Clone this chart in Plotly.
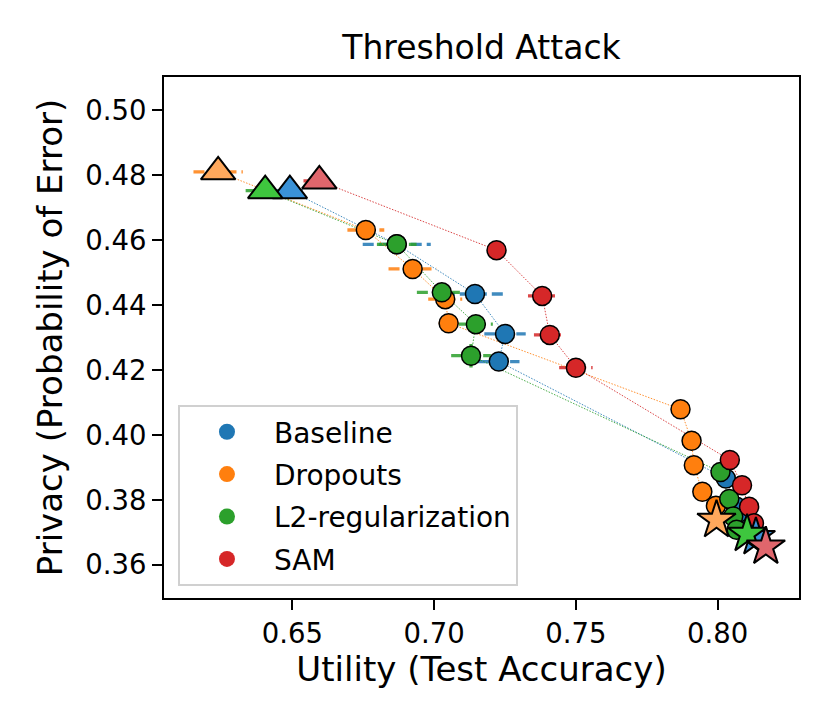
import plotly.graph_objects as go

# series order: first point = triangle, last point = star, the rest = circles
methods = ["Baseline", "Dropouts", "L2-regularization", "SAM"]
colors = ["#1f77b4", "#ff7f0e", "#2ca02c", "#d62728"]
light_colors = ["#3a92d8", "#ffa85c", "#3ec63e", "#e0666c"]

baseline_x = [0.6491, 0.6868, 0.7144, 0.7250, 0.7228, 0.8029, 0.8067, 0.8090, 0.8105, 0.8135]
baseline_y = [0.4752, 0.4587, 0.4434, 0.4311, 0.4226, 0.3866, 0.3779, 0.3738, 0.3710, 0.3685]
baseline_xerr = [0.0050, 0.0120, 0.0110, 0.0073, 0.0073, 0.0020, 0.0020, 0.0020, 0.0020, 0.0020]
baseline_yerr = [0, 0, 0, 0, 0, 0, 0, 0, 0, 0]

dropout_x = [0.6238, 0.6759, 0.6924, 0.7039, 0.7051, 0.7869, 0.7908, 0.7916, 0.7946, 0.7994, 0.7996]
dropout_y = [0.4810, 0.4631, 0.4511, 0.4418, 0.4344, 0.4079, 0.3982, 0.3907, 0.3825, 0.3782, 0.3738]
dropout_xerr = [0.0087, 0.0065, 0.0085, 0.0060, 0.0035, 0.0020, 0.0020, 0.0020, 0.0020, 0.0020, 0.0020]
dropout_yerr = [0, 0, 0, 0, 0, 0, 0, 0, 0, 0, 0]

l2_x = [0.6404, 0.6868, 0.7027, 0.7147, 0.7130, 0.8010, 0.8041, 0.8055, 0.8067, 0.8104]
l2_y = [0.4752, 0.4587, 0.4439, 0.4341, 0.4244, 0.3886, 0.3803, 0.3749, 0.3708, 0.3695]
l2_xerr = [0.0069, 0.0070, 0.0088, 0.0060, 0.0070, 0.0020, 0.0020, 0.0020, 0.0020, 0.0020]
l2_yerr = [0, 0, 0, 0, 0.0036, 0, 0, 0, 0, 0]

sam_x = [0.6595, 0.7220, 0.7381, 0.7408, 0.7500, 0.8043, 0.8086, 0.8111, 0.8128, 0.8170]
sam_y = [0.4782, 0.4569, 0.4428, 0.4308, 0.4207, 0.3923, 0.3845, 0.3779, 0.3728, 0.3656]
sam_xerr = [0.0056, 0.0014, 0.0050, 0.0056, 0.0059, 0.0020, 0.0020, 0.0020, 0.0020, 0.0020]
sam_yerr = [0, 0, 0, 0, 0, 0, 0, 0, 0, 0]

xs = [baseline_x, dropout_x, l2_x, sam_x]
ys = [baseline_y, dropout_y, l2_y, sam_y]
xerrs = [baseline_xerr, dropout_xerr, l2_xerr, sam_xerr]
yerrs = [baseline_yerr, dropout_yerr, l2_yerr, sam_yerr]

x_ticks = [0.65, 0.70, 0.75, 0.80]
y_ticks = [0.36, 0.38, 0.40, 0.42, 0.44, 0.46, 0.48, 0.50]

FONT = "DejaVu Sans"

fig = go.Figure()

# dashed error bars (drawn first so markers sit on top)
for i in range(4):
    ex, ey = [], []
    for x, y, dx, dy in zip(xs[i], ys[i], xerrs[i], yerrs[i]):
        ex += [x - dx, x + dx, None]
        ey += [y, y, None]
        if dy > 0:
            ex += [x, x, None]
            ey += [y - dy, y + dy, None]
    fig.add_trace(go.Scatter(x=ex, y=ey, mode="lines", showlegend=False,
                             hoverinfo="skip", opacity=0.85,
                             line=dict(color=colors[i], width=3.3, dash="11px,5px")))

# thin dotted connecting lines
for i in range(4):
    fig.add_trace(go.Scatter(x=xs[i], y=ys[i], mode="lines", showlegend=False,
                             hoverinfo="skip", opacity=0.85,
                             line=dict(color=colors[i], width=1, dash="1.5px,1.5px")))

# circles
for i in range(4):
    fig.add_trace(go.Scatter(x=xs[i][1:-1], y=ys[i][1:-1], mode="markers",
                             showlegend=False,
                             marker=dict(symbol="circle", size=19, color=colors[i],
                                         line=dict(color="black", width=1.5))))

# starting triangles
for i in range(4):
    fig.add_trace(go.Scatter(x=xs[i][:1], y=ys[i][:1], mode="markers",
                             showlegend=False,
                             marker=dict(symbol="triangle-up", size=30, color=light_colors[i],
                                         line=dict(color="black", width=2))))

# final stars
for i in range(4):
    fig.add_trace(go.Scatter(x=xs[i][-1:], y=ys[i][-1:], mode="markers",
                             showlegend=False,
                             marker=dict(symbol="star", size=29, color=light_colors[i],
                                         line=dict(color="black", width=2))))

# legend entries
for i, name in enumerate(methods):
    fig.add_trace(go.Scatter(x=[None], y=[None], mode="markers", name=name,
                             legendgroup=name,
                             marker=dict(symbol="circle", size=20, color=colors[i])))

axis_common = dict(
    showline=True, mirror=True, linecolor="black", linewidth=2,
    ticks="outside", ticklen=10, tickwidth=2, tickcolor="black",
    showgrid=False, zeroline=False,
    tickfont=dict(family=FONT, size=27.5, color="black"),
)

fig.update_layout(
    width=830, height=727,
    margin=dict(l=156, r=39, t=69, b=137),
    paper_bgcolor="white", plot_bgcolor="white",
    font=dict(family=FONT, color="black"),
    title=dict(text="Threshold Attack", x=0.5, xref="paper", y=1 - 39 / 727,
               yanchor="middle", font=dict(family=FONT, size=33, color="black")),
    xaxis=dict(range=[0.6047, 0.8287], tickvals=x_ticks,
               ticktext=["%.2f" % v for v in x_ticks],
               title=dict(text="Utility (Test Accuracy)", standoff=5,
                          font=dict(family=FONT, size=34, color="black")),
               **axis_common),
    yaxis=dict(range=[0.3498, 0.5102], tickvals=y_ticks,
               ticktext=["%.2f" % v for v in y_ticks],
               title=dict(text="Privacy (Probability of Error)", standoff=12,
                          font=dict(family=FONT, size=34, color="black")),
               **axis_common),
    legend=dict(x=0.022, y=0.3704, xanchor="left", yanchor="top",
                bgcolor="white", bordercolor="#d0d0d0", borderwidth=2,
                font=dict(family=FONT, size=28, color="black"),
                itemwidth=84, tracegroupgap=3, traceorder="grouped"),
)

fig.write_html("out.html")
